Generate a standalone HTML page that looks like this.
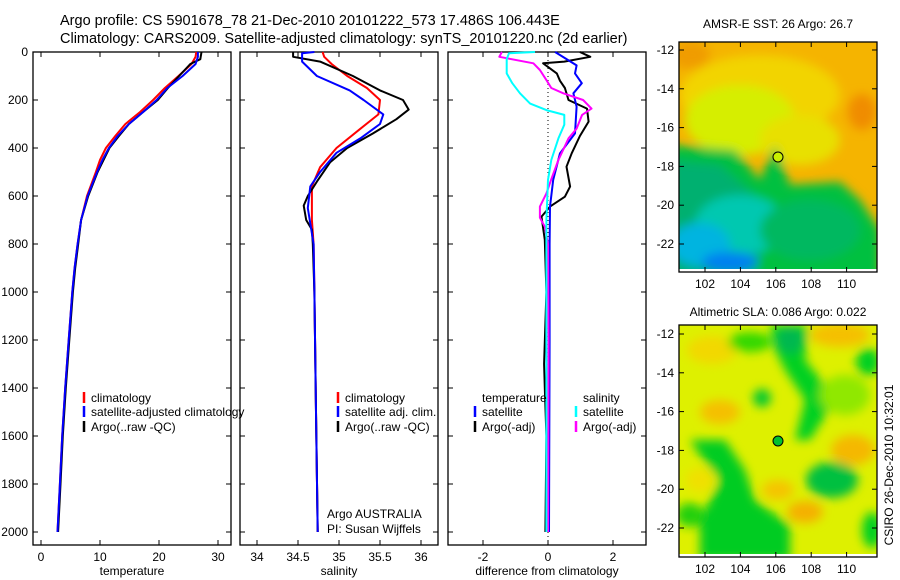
<!DOCTYPE html>
<html><head><meta charset="utf-8"><style>
body{margin:0;background:#fff;}
svg{display:block;font-family:"Liberation Sans",sans-serif;}
</style></head><body>
<svg id="fig" width="900" height="580" viewBox="0 0 900 580" xmlns="http://www.w3.org/2000/svg">
<defs>
<filter id="blur" x="-20%" y="-20%" width="140%" height="140%"><feGaussianBlur stdDeviation="5"/></filter>
<clipPath id="clip1"><rect x="679" y="42" width="198" height="227"/></clipPath>
<clipPath id="clip2"><rect x="679" y="325" width="198" height="229"/></clipPath>
</defs>
<text x="60" y="25" font-size="14.5">Argo profile: CS 5901678_78 21-Dec-2010 20101222_573 17.486S 106.443E</text>
<text x="60" y="43" font-size="14.5">Climatology: CARS2009. Satellite-adjusted climatology: synTS_20101220.nc (2d earlier)</text>

<g id="panels"></g>

<!-- SST map -->
<g>
<g clip-path="url(#clip1)">
<rect x="679" y="42" width="198" height="227" fill="#f5b400"/>
<g filter="url(#blur)">
<ellipse cx="760" cy="95" rx="80" ry="40" fill="#f2d400"/>
<ellipse cx="740" cy="120" rx="55" ry="35" fill="#d6ee00"/>
<ellipse cx="800" cy="140" rx="40" ry="25" fill="#e8e000"/>
<ellipse cx="862" cy="112" rx="14" ry="18" fill="#f08c00"/>
<ellipse cx="690" cy="55" rx="20" ry="14" fill="#f09c00"/>
<polygon points="670,145 735,150 760,180 775,145 790,185 840,182 860,200 880,230 880,290 670,290" fill="#00c040"/>
<polygon points="670,160 720,165 760,200 770,240 740,290 670,290" fill="#00b070"/>
<ellipse cx="740" cy="225" rx="45" ry="30" fill="#00c8b0"/>
<ellipse cx="700" cy="245" rx="30" ry="22" fill="#00b4e0"/>
<ellipse cx="730" cy="262" rx="28" ry="10" fill="#0080f0"/>
<ellipse cx="810" cy="230" rx="50" ry="30" fill="#00b860"/>
</g>
</g>
<rect x="679" y="42" width="198" height="230" fill="none" stroke="#000" stroke-width="1.3"/>
<circle cx="778" cy="157" r="5" fill="#c8f000" stroke="#000"/>
<text x="778" y="28" font-size="12" text-anchor="middle">AMSR-E SST: 26 Argo: 26.7</text>
</g>

<!-- SLA map -->
<g>
<g clip-path="url(#clip2)">
<rect x="679" y="325" width="198" height="229" fill="#def000"/>
<g filter="url(#blur)">
<ellipse cx="840" cy="335" rx="30" ry="12" fill="#f5c000"/>
<ellipse cx="712" cy="350" rx="25" ry="14" fill="#f2d800"/>
<ellipse cx="720" cy="412" rx="20" ry="12" fill="#f5c000"/>
<ellipse cx="853" cy="450" rx="22" ry="15" fill="#f5b800"/>
<ellipse cx="778" cy="490" rx="16" ry="10" fill="#f5c400"/>
<ellipse cx="805" cy="512" rx="18" ry="11" fill="#f5b000"/>
<ellipse cx="760" cy="552" rx="15" ry="6" fill="#f2d800"/>
<polygon points="770,325 808,325 805,360 825,385 835,400 810,440 795,440 805,400 785,370 775,350" fill="#00d020"/>
<ellipse cx="790" cy="340" rx="14" ry="14" fill="#00b850"/>
<ellipse cx="750" cy="342" rx="22" ry="10" fill="#30d800"/>
<ellipse cx="762" cy="398" rx="9" ry="9" fill="#00c830"/>
<polygon points="690,440 725,440 745,470 755,500 790,525 790,560 700,560 700,520 720,480 700,455" fill="#00cc20"/>
<ellipse cx="690" cy="515" rx="14" ry="12" fill="#20d010"/>
<ellipse cx="832" cy="480" rx="26" ry="18" fill="#00c040"/>
<ellipse cx="868" cy="362" rx="12" ry="14" fill="#00d020"/>
<ellipse cx="872" cy="530" rx="10" ry="18" fill="#00d020"/>
<ellipse cx="845" cy="395" rx="25" ry="20" fill="#90e800"/>
<ellipse cx="700" cy="480" rx="14" ry="12" fill="#f0e000"/>
</g>
</g>
<rect x="679" y="325" width="198" height="232" fill="none" stroke="#000" stroke-width="1.3"/>
<circle cx="778" cy="441" r="5" fill="#00c030" stroke="#000"/>
<text x="778" y="316" font-size="12" text-anchor="middle">Altimetric SLA: 0.086 Argo: 0.022</text>
</g>
<text transform="translate(893,465) rotate(-90)" font-size="12" text-anchor="middle">CSIRO 26-Dec-2010 10:32:01</text>
<g id="maps"></g>
</svg>
<script>
// depth axis
const depthTicks = [0,200,400,600,800,1000,1200,1400,1600,1800,2000];
// temperature panel
const tempTicks = [0,10,20,30];
const tClimD = [0,20,50,100,150,200,250,300,350,400,450,500,600,700,800,900,1000,1200,1400,1600,1800,2000];
const tClimV = [26.3,26.2,25.5,23.3,21.0,19.0,16.8,14.3,12.6,11.0,10.0,9.3,7.8,6.8,6.2,5.7,5.3,4.7,4.1,3.6,3.2,2.8];
const tSatD = [0,20,50,100,150,200,250,300,350,400,450,500,600,700,800,900,1000,1200,1400,1600,1800,2000];
const tSatV = [26.6,26.6,26.2,24.0,21.4,19.6,17.3,14.9,13.0,11.5,10.4,9.5,7.9,6.8,6.2,5.7,5.3,4.7,4.1,3.6,3.2,2.8];
const tArgoD = [0,30,50,100,150,200,250,300,350,400,500,600,700,800,900,1000,1200,1400,1600,1800,2000];
const tArgoV = [27.2,27.0,25.3,23.4,21.5,19.8,17.3,14.9,13.2,11.6,9.6,8.0,6.8,6.3,5.8,5.4,4.8,4.2,3.7,3.3,2.9];
// salinity panel
const salTicks = [34,34.5,35,35.5,36];
const sClimD = [0,20,50,100,150,200,260,320,400,480,560,700,800,1000,1500,2000];
const sClimV = [34.80,34.82,34.91,35.10,35.34,35.50,35.48,35.26,34.97,34.77,34.67,34.67,34.69,34.70,34.72,34.74];
const sSatD = [0,5,40,100,160,200,260,300,360,420,500,560,650,800,1000,1500,2000];
const sSatV = [34.70,34.55,34.55,34.73,35.13,35.30,35.54,35.50,35.26,34.97,34.77,34.65,34.62,34.69,34.70,34.72,34.74];
const sArgoD = [0,20,40,100,160,200,240,280,340,400,460,540,600,640,700,740,800,1000,1500,2000];
const sArgoV = [34.44,34.44,34.77,35.17,35.50,35.78,35.85,35.70,35.41,35.10,34.89,34.73,34.62,34.57,34.60,34.67,34.68,34.70,34.72,34.74];
// difference panel
const diffTicks = [-2,0,2];
const dTSatD = [0,56,89,130,172,228,339,422,533,644,800,1200,1600,2000];
const dTSatV = [0.22,0.88,0.83,1.04,0.78,0.88,0.83,0.37,0.16,0.06,0.05,0.05,0.04,0.03];
const dTArgoD = [0,20,40,47,89,120,150,200,236,290,350,422,478,561,603,644,686,783,1000,1300,1400,1600,2000];
const dTArgoV = [0.98,1.3,0.5,-0.15,0.27,0.37,0.52,0.63,1.2,1.25,0.98,0.73,0.57,0.68,0.52,0.06,-0.2,-0.1,-0.05,-0.12,-0.1,-0.05,-0.08];
const dSArgoD = [0,20,47,75,117,150,172,200,236,262,319,360,450,530,589,644,690,728,800,1200,2000];
const dSArgoV = [-1.42,-1.5,-0.45,-0.25,-0.05,0.1,0.47,1.08,1.34,1.05,0.88,0.63,0.32,0.1,-0.05,-0.25,-0.25,-0.1,0.0,0.02,0.0];
const dSSatD = [0,5,30,89,130,172,215,242,262,303,360,450,533,700,1000,2000];
const dSSatV = [-0.4,-1.2,-1.27,-1.27,-1.1,-0.86,-0.55,-0.05,0.5,0.5,0.32,0.1,0.0,-0.05,-0.05,-0.05];
// map axes
const latTicks = [-12,-14,-16,-18,-20,-22];
const lonTicks = [102,104,106,108,110];

const NS = 'http://www.w3.org/2000/svg';
const root = document.getElementById('panels');
function mk(tag, attrs, parent){const e=document.createElementNS(NS,tag);for(const k in attrs)e.setAttribute(k,attrs[k]);(parent||root).appendChild(e);return e;}
const Y0=52, YS=0.24, TOP=52, BOT=545;
const yD = d => Y0 + d*YS;

const panels = [
 {name:'temperature', x0:33, x1:231, xv:v=>41+v*5.9, ticks:tempTicks, label:'temperature'},
 {name:'salinity', x0:240, x1:438, xv:v=>257+(v-34)*82, ticks:salTicks, label:'salinity'},
 {name:'difference', x0:448, x1:646, xv:v=>548+v*32.5, ticks:diffTicks, label:'difference from climatology'}
];
panels.forEach((p,i)=>{
  const g = mk('g',{});
  
  
  const fr = mk('rect',{x:p.x0,y:TOP,width:p.x1-p.x0,height:BOT-TOP,fill:'none',stroke:'#000','stroke-width':1.3},g);
  
  
  p.ticks.forEach(t=>{
    const x=p.xv(t);
    mk('line',{x1:x,x2:x,y1:BOT,y2:BOT-5,stroke:'#000'},g);
    mk('line',{x1:x,x2:x,y1:TOP,y2:TOP+5,stroke:'#000'},g);
    const tl = mk('text',{x:x,y:BOT+16,'font-size':12,'text-anchor':'middle'},g);
    tl.textContent = String(t);
    
    
  });
  depthTicks.forEach(d=>{
    const y=yD(d);
    mk('line',{x1:p.x0,x2:p.x0+5,y1:y,y2:y,stroke:'#000'},g);
    mk('line',{x1:p.x1,x2:p.x1-5,y1:y,y2:y,stroke:'#000'},g);
    if(i===0){
      const tl = mk('text',{x:p.x0-5,y:y+4,'font-size':12,'text-anchor':'end'},g);
      tl.textContent=String(d);
      
      
    }
  });
  const xl = mk('text',{x:(p.x0+p.x1)/2,y:BOT+30,'font-size':12,'text-anchor':'middle'},g);
  xl.textContent=p.label;
  
  
  p.g=g;
});
function line(p, D, V, color, name, w){
  const pts = D.map((d,k)=>p.xv(V[k]).toFixed(1)+','+yD(d).toFixed(1)).join(' ');
  const e = mk('polyline',{points:pts,fill:'none',stroke:color,'stroke-width':w||2,'stroke-linejoin':'round'},p.g);
  
  
}
const zl = mk('line',{x1:panels[2].xv(0),x2:panels[2].xv(0),y1:TOP,y2:BOT,stroke:'#000','stroke-dasharray':'1,3'},panels[2].g);



line(panels[0], tClimD, tClimV, '#ff0000', 'temperature-climatology-line');
line(panels[0], tArgoD, tArgoV, '#000000', 'temperature-argo-line');
line(panels[0], tSatD, tSatV, '#0000ff', 'temperature-satellite-line');
line(panels[1], sClimD, sClimV, '#ff0000', 'salinity-climatology-line');
line(panels[1], sArgoD, sArgoV, '#000000', 'salinity-argo-line');
line(panels[1], sSatD, sSatV, '#0000ff', 'salinity-satellite-line');
line(panels[2], dTArgoD, dTArgoV, '#000000', 'temp-diff-argo-line');
line(panels[2], dTSatD, dTSatV, '#0000ff', 'temp-diff-satellite-line');
line(panels[2], dSArgoD, dSArgoV, '#ff00ff', 'sal-diff-argo-line');
line(panels[2], dSSatD, dSSatV, '#00ffff', 'sal-diff-satellite-line');

function legend(g, x, y, color, txt, name){
  const m = mk('line',{x1:x,x2:x,y1:y-10,y2:y+1,stroke:color,'stroke-width':2.5},g);
  
  
  const t = mk('text',{x:x+7,y:y,'font-size':12},g);
  t.textContent=txt;
  
  
}
legend(panels[0].g, 84, 402, '#ff0000', 'climatology', 'legend-temp-climatology');
legend(panels[0].g, 84, 416, '#0000ff', 'satellite-adjusted climatology', 'legend-temp-satellite');
legend(panels[0].g, 84, 431, '#000000', 'Argo(..raw -QC)', 'legend-temp-argo');
legend(panels[1].g, 338, 402, '#ff0000', 'climatology', 'legend-sal-climatology');
legend(panels[1].g, 338, 416, '#0000ff', 'satellite adj. clim.', 'legend-sal-satellite');
legend(panels[1].g, 338, 431, '#000000', 'Argo(..raw -QC)', 'legend-sal-argo');
const lt = mk('text',{x:482,y:402,'font-size':12},panels[2].g); lt.textContent='temperature';


const ls = mk('text',{x:583,y:402,'font-size':12},panels[2].g); ls.textContent='salinity';


legend(panels[2].g, 475, 416, '#0000ff', 'satellite', 'legend-diff-temp-satellite');
legend(panels[2].g, 475, 431, '#000000', 'Argo(-adj)', 'legend-diff-temp-argo');
legend(panels[2].g, 576, 416, '#00ffff', 'satellite', 'legend-diff-sal-satellite');
legend(panels[2].g, 576, 431, '#ff00ff', 'Argo(-adj)', 'legend-diff-sal-argo');
const a1 = mk('text',{x:327,y:518,'font-size':12},panels[1].g); a1.textContent='Argo AUSTRALIA';


const a2 = mk('text',{x:327,y:533,'font-size':12},panels[1].g); a2.textContent='PI: Susan Wijffels';



const maps = document.getElementById('maps');
[{y0:42,y1:272,lat0:50,name:'sst'},{y0:325,y1:557,lat0:334,name:'sla'}].forEach(m=>{
  latTicks.forEach(l=>{
    const y = m.lat0 + (-12-l)*19.4;
    mk('line',{x1:679,x2:684,y1:y,y2:y,stroke:'#000'},maps);
    mk('line',{x1:877,x2:872,y1:y,y2:y,stroke:'#000'},maps);
    const t = mk('text',{x:674,y:y+4,'font-size':12,'text-anchor':'end'},maps);
    t.textContent=String(l);
    
    
  });
  lonTicks.forEach(l=>{
    const x = 705 + (l-102)*17.7;
    mk('line',{x1:x,x2:x,y1:m.y1,y2:m.y1-5,stroke:'#000'},maps);
    mk('line',{x1:x,x2:x,y1:m.y0,y2:m.y0+5,stroke:'#000'},maps);
    const t = mk('text',{x:x,y:m.y1+16,'font-size':12,'text-anchor':'middle'},maps);
    t.textContent=String(l);
    
    
  });
});
</script>
</body></html>
